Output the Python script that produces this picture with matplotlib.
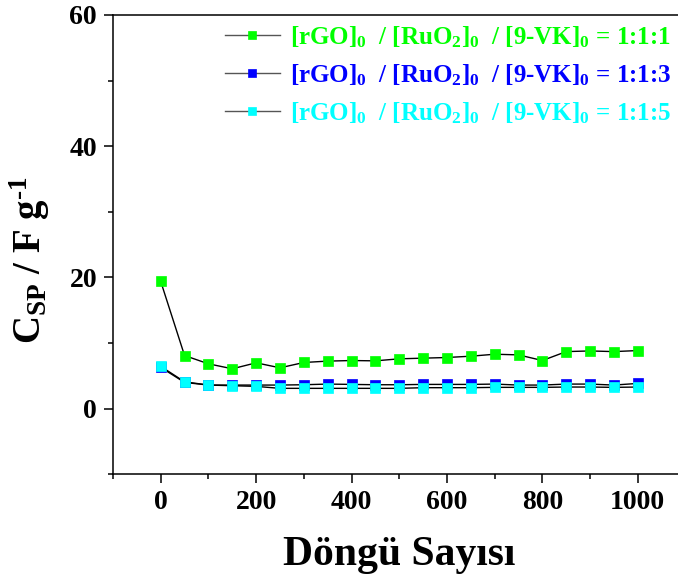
import matplotlib
matplotlib.use("Agg")
import matplotlib.pyplot as plt
from matplotlib.ticker import MultipleLocator

plt.rcParams['font.family'] = ['Liberation Serif', 'DejaVu Serif']
plt.rcParams['font.weight'] = 'bold'
plt.rcParams['mathtext.fontset'] = 'custom'
plt.rcParams['mathtext.rm'] = 'Liberation Serif:bold'
plt.rcParams['mathtext.it'] = 'Liberation Serif:bold'
plt.rcParams['mathtext.bf'] = 'Liberation Serif:bold'
plt.rcParams['mathtext.default'] = 'rm'

cycles = [0, 50, 100, 150, 200, 250, 300, 350, 400, 450, 500,
          550, 600, 650, 700, 750, 800, 850, 900, 950, 1000]
csp_111 = [19.4, 8.1, 6.84, 6.08, 6.99, 6.23, 7.04, 7.25, 7.34, 7.29, 7.6,
           7.7, 7.8, 8.0, 8.3, 8.2, 7.34, 8.7, 8.8, 8.7, 8.86]
csp_113 = [6.3, 4.0, 3.6, 3.6, 3.6, 3.6, 3.65, 3.75, 3.7, 3.65, 3.65,
           3.7, 3.7, 3.7, 3.75, 3.6, 3.6, 3.75, 3.75, 3.6, 3.85]
csp_115 = [6.45, 4.1, 3.6, 3.5, 3.4, 3.1, 3.1, 3.1, 3.1, 3.1, 3.1,
           3.2, 3.2, 3.2, 3.25, 3.25, 3.25, 3.3, 3.3, 3.25, 3.3]

labels = [r'[rGO]$_0$  / [RuO$_2$]$_0$  / [9-VK]$_0$ = 1:1:1',
          r'[rGO]$_0$  / [RuO$_2$]$_0$  / [9-VK]$_0$ = 1:1:3',
          r'[rGO]$_0$  / [RuO$_2$]$_0$  / [9-VK]$_0$ = 1:1:5']
colors = ['#00FF00', '#0000FF', '#00FFFF']
series = [csp_111, csp_113, csp_115]

fig = plt.figure(figsize=(6.78, 5.81), dpi=100)
ax = fig.add_axes([113/678, 1 - 474.3/581, (685.5 - 113)/678, (474.3 - 15)/581])

handles = []
for ys, c, lab in zip(series, colors, labels):
    h, = ax.plot(cycles, ys, color='black', lw=1.0, marker='s', markersize=7.5,
                 markerfacecolor=c, markeredgecolor=c, markeredgewidth=0.5, label=lab)
    handles.append(h)

ax.set_xlim(-100, 1100)
ax.set_ylim(-10, 60)
ax.xaxis.set_major_locator(MultipleLocator(200))
ax.xaxis.set_minor_locator(MultipleLocator(100))
ax.yaxis.set_major_locator(MultipleLocator(20))
ax.yaxis.set_minor_locator(MultipleLocator(10))
ax.tick_params(which='major', direction='out', length=6.5, width=1.1, labelsize=20, pad=5)
ax.tick_params(which='minor', direction='out', length=3.5, width=1.1)
for s in ax.spines.values():
    s.set_linewidth(1.1)
for t in ax.get_xticklabels() + ax.get_yticklabels():
    t.set_fontweight('bold')

ax.set_xlabel('Döngü Sayısı', fontsize=30, fontweight='bold', labelpad=15)
ax.set_ylabel(r'C$_{\mathrm{SP}}$ / F g$^{\text{-1}}$', fontsize=28, fontweight='bold')
ax.yaxis.set_label_coords(-0.106, 0.467)

leg = ax.legend(handles=handles, loc='upper right',
                bbox_to_anchor=(671/678, 1 - 24/581), bbox_transform=fig.transFigure,
                frameon=False, handlelength=2.2, handletextpad=0.4,
                labelspacing=0.5, borderpad=0, borderaxespad=0, markerscale=0.7,
                prop={'weight': 'bold', 'size': 18})
for txt, c in zip(leg.get_texts(), colors):
    txt.set_color(c)
for lh in leg.get_lines():
    lh.set_color('#555555')

fig.savefig('out.png', dpi=100)
